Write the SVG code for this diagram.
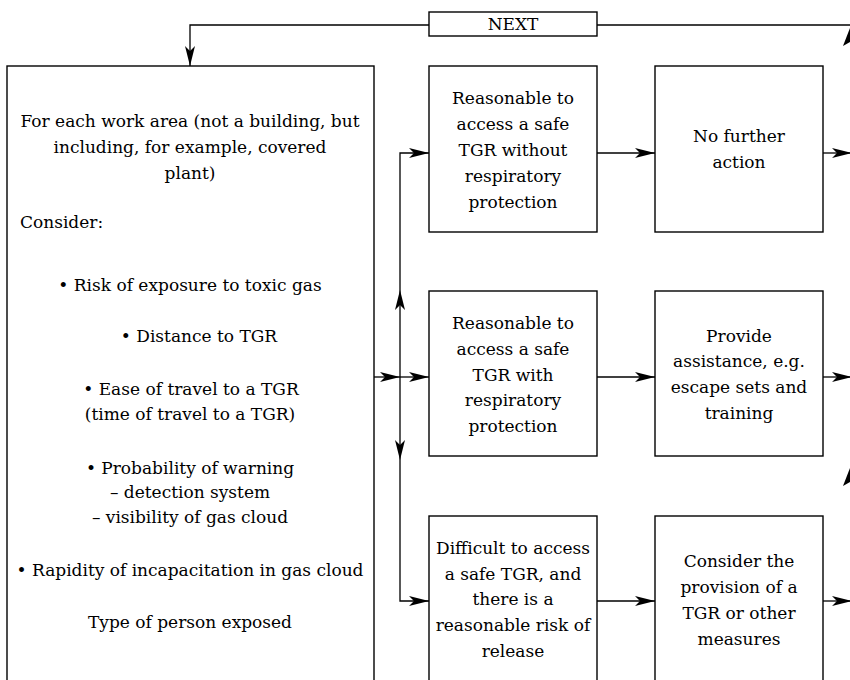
<svg xmlns="http://www.w3.org/2000/svg" width="850" height="680" viewBox="0 0 850 680">
<defs>
<marker id="ah" viewBox="0 0 20 10" refX="20" refY="5" markerWidth="20" markerHeight="10" markerUnits="userSpaceOnUse" orient="auto">
<path d="M0,0 L20,5 L0,10 L5,5 Z" fill="#000"/>
</marker>
</defs>
<style>
.box{fill:#fff;stroke:#000;stroke-width:1.4}
.t{font-family:'DejaVu Serif','Liberation Serif',serif;font-size:17px;fill:#000;text-anchor:middle}
.l{fill:none;stroke:#000;stroke-width:1.3}
</style>
<rect width="850" height="680" fill="#fff"/>
<g id="connectors">
<path class="l" d="M429,25 H190 V66" marker-end="url(#ah)"/>
<path class="l" d="M597,25 H850"/>
<path class="l" d="M374,377 H400" marker-end="url(#ah)"/>
<path class="l" d="M400,377 H429" marker-end="url(#ah)"/>
<path class="l" d="M400,377 V290" marker-end="url(#ah)"/>
<path class="l" d="M400,290 V153 H429" marker-end="url(#ah)"/>
<path class="l" d="M400,377 V460" marker-end="url(#ah)"/>
<path class="l" d="M400,460 V601 H429" marker-end="url(#ah)"/>
<path class="l" d="M597,153 H655" marker-end="url(#ah)"/>
<path class="l" d="M597,377 H655" marker-end="url(#ah)"/>
<path class="l" d="M597,601 H655" marker-end="url(#ah)"/>
<path class="l" d="M823,153 H852" marker-end="url(#ah)"/>
<path class="l" d="M823,377 H852" marker-end="url(#ah)"/>
<path class="l" d="M823,601 H852" marker-end="url(#ah)"/>
<path d="M850,28 L843,46 L850,42 Z" fill="#000"/>
<path d="M850,468 L843,486 L850,482 Z" fill="#000"/>
</g>
<g id="next">
<rect class="box" x="429" y="12" width="168" height="24"/>
<text class="t" x="513" y="30">NEXT</text>
</g>
<g id="consider">
<rect class="box" x="7" y="66" width="367" height="640"/>
<text class="t" x="190" y="127">For each work area (not a building, but</text>
<text class="t" x="190" y="153">including, for example, covered</text>
<text class="t" x="190" y="179">plant)</text>
<text class="t" x="20" y="228" style="text-anchor:start">Consider:</text>
<text class="t" x="190" y="291">• Risk of exposure to toxic gas</text>
<text class="t" x="199" y="342">• Distance to TGR</text>
<text class="t" x="191" y="395">• Ease of travel to a TGR</text>
<text class="t" x="190" y="420">(time of travel to a TGR)</text>
<text class="t" x="190" y="474">• Probability of warning</text>
<text class="t" x="190" y="498">– detection system</text>
<text class="t" x="190" y="523">– visibility of gas cloud</text>
<text class="t" x="190" y="576">• Rapidity of incapacitation in gas cloud</text>
<text class="t" x="190" y="628">Type of person exposed</text>
</g>
<g id="r1">
<rect class="box" x="429" y="66" width="168" height="166"/>
<text class="t" x="513" y="104">Reasonable to</text>
<text class="t" x="513" y="130">access a safe</text>
<text class="t" x="513" y="156">TGR without</text>
<text class="t" x="513" y="182">respiratory</text>
<text class="t" x="513" y="208">protection</text>
</g>
<g id="r2">
<rect class="box" x="429" y="291" width="168" height="165"/>
<text class="t" x="513" y="329">Reasonable to</text>
<text class="t" x="513" y="355">access a safe</text>
<text class="t" x="513" y="381">TGR with</text>
<text class="t" x="513" y="406">respiratory</text>
<text class="t" x="513" y="432">protection</text>
</g>
<g id="r3">
<rect class="box" x="429" y="516" width="168" height="190"/>
<text class="t" x="513" y="554">Difficult to access</text>
<text class="t" x="513" y="580">a safe TGR, and</text>
<text class="t" x="513" y="605">there is a</text>
<text class="t" x="513" y="631">reasonable risk of</text>
<text class="t" x="513" y="657">release</text>
</g>
<g id="a1">
<rect class="box" x="655" y="66" width="168" height="166"/>
<text class="t" x="739" y="142">No further</text>
<text class="t" x="739" y="168">action</text>
</g>
<g id="a2">
<rect class="box" x="655" y="291" width="168" height="165"/>
<text class="t" x="739" y="342">Provide</text>
<text class="t" x="739" y="367">assistance, e.g.</text>
<text class="t" x="739" y="393">escape sets and</text>
<text class="t" x="739" y="419">training</text>
</g>
<g id="a3">
<rect class="box" x="655" y="516" width="168" height="190"/>
<text class="t" x="739" y="567">Consider the</text>
<text class="t" x="739" y="593">provision of a</text>
<text class="t" x="739" y="619">TGR or other</text>
<text class="t" x="739" y="645">measures</text>
</g>
</svg>
